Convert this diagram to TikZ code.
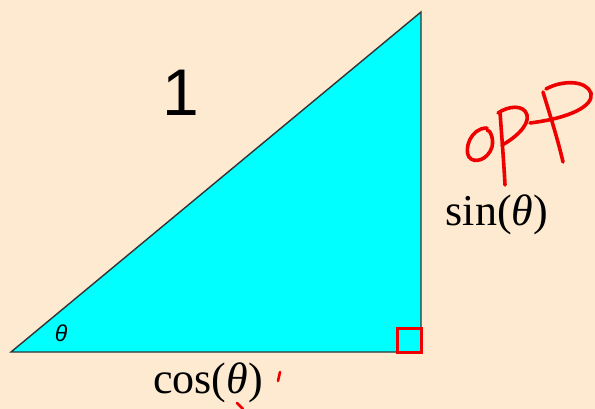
\documentclass[tikz,border=0pt]{standalone}
\usepackage{fontspec}
\setmainfont{Liberation Serif}
\newfontfamily\arialfont{Liberation Sans}
\usetikzlibrary{positioning,calc}
\definecolor{paper}{RGB}{253,234,208}
\definecolor{triCyan}{RGB}{0,255,255}
\definecolor{inkRed}{RGB}{238,0,0}
\tikzset{
  ink/.style={draw=inkRed, line width=3.6pt, line cap=round, line join=round},
  sidelabel/.style={inner sep=0pt, font=\fontsize{44}{50}\selectfont}
}

\begin{document}
\begin{tikzpicture}[x=1pt, y=-1pt]
        \fill[paper] (0,0) rectangle (595,409);
        \useasboundingbox (0,0) rectangle (595,409);
        \coordinate (A) at (11,352);
        \coordinate (B) at (421,352);
        \coordinate (C) at (421,12);
        \filldraw[fill=triCyan, draw=black!80, line width=1.4pt, line join=miter] (A) -- (B) -- (C) -- cycle;
        \draw[inkRed, line width=3pt] (397,328) rectangle (B);
        \node[inner sep=0pt, font=\arialfont\fontsize{66}{70}\selectfont] (hyp) at (181,93) {1};
        \node[inner sep=0pt, font=\arialfont\itshape\fontsize{23}{25}\selectfont] (theta) at (61,333) {θ};
        \node[sidelabel] (opp) at (497,215) {sin(\textit{θ})};
        \node[sidelabel] (adj) at (208,383) {cos(\textit{θ})};
        % handwritten notes
        \draw[ink] (487,128) .. controls (470,128) and (464,150) .. (469,157)
          .. controls (474,164) and (488,160) .. (492,147) .. controls (494,138) and (490,130) .. (487,130);
        \draw[ink] (500,112) .. controls (502,140) and (504,165) .. (505,185);
        \draw[ink] (498,113) .. controls (508,106) and (524,104) .. (527,115)
          .. controls (530,126) and (512,140) .. (502,145);
        \draw[ink] (543,92) .. controls (550,115) and (558,140) .. (563,162);
        \draw[ink] (546,89) .. controls (562,80) and (586,80) .. (591,93)
          .. controls (594,106) and (570,118) .. (530,123);
        \draw[ink, line width=2.6pt] (280,372) -- (278,381);
        \draw[ink, line width=2.6pt] (237,403) -- (243,409);
    \end{tikzpicture}
\end{document}
